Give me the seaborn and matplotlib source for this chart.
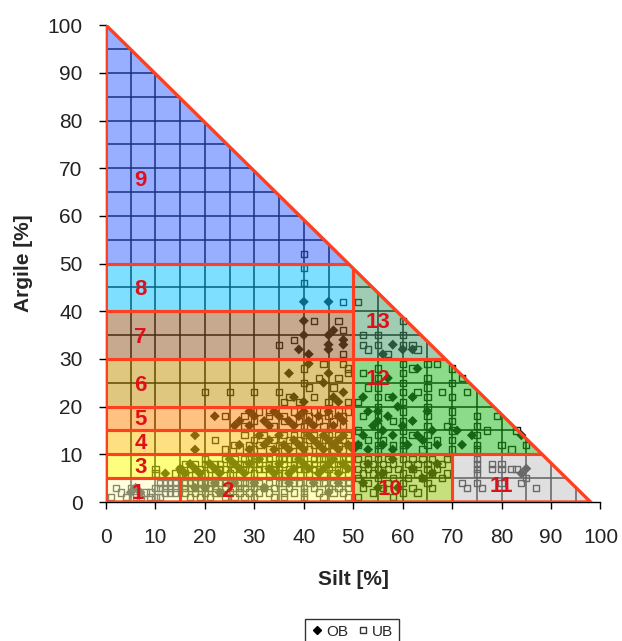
import numpy as np
import pandas as pd
import matplotlib
matplotlib.use('Agg')
import matplotlib.pyplot as plt
import matplotlib.colors as mcolors
from matplotlib.patches import Polygon, Rectangle
from matplotlib.lines import Line2D
import seaborn as sns

# texture classes: (silt_lo, silt_hi, clay_lo, clay_hi)
class_names = ['1', '2', '3', '4', '5', '6', '7', '8', '9', '10', '11', '12', '13']
class_bounds = [(0, 15, 0, 5), (15, 50, 0, 5), (0, 50, 5, 10), (0, 50, 10, 15),
                (0, 50, 15, 20), (0, 50, 20, 30), (0, 50, 30, 40), (0, 50, 40, 50),
                (0, 50, 50, 100), (50, 70, 0, 10), (70, 100, 0, 10), (50, 100, 10, 30),
                (50, 100, 30, 50)]
class_colors = ['#ffffe1', '#ffffbe', '#ffff80', '#ffe182', '#ffc382', '#e1c87d', '#c8aa91',
                '#80e0ff', '#99afff', '#c8e17d', '#e0e0e0', '#8cdc8c', '#a0cdb4']
label_pos = [(6.5, 1.8), (24.5, 2.2), (7, 7.3), (7, 12.3), (7, 17.3), (7, 24.5), (7, 34.5),
             (7, 44.5), (7, 67.5), (57.5, 2.7), (80, 3.2), (55, 25.6), (55, 37.7)]

# triangle corners
tri_silt = [0, 98, 0]
tri_clay = [0, 0, 100]

# measured samples (silt %, clay %)
ub_r1 = [(1, 1), (2, 3), (3, 2), (4, 1), (5, 3), (6, 1), (7, 1), (8, 2), (9, 2), (9, 1), (10, 3),
         (10, 1), (11, 4), (11, 3), (11, 1), (12, 4), (12, 3), (12, 2), (13, 4), (13, 3),
         (13, 2), (14, 4), (14, 3), (14, 2)]
ob_r1 = [(5, 2), (6, 3), (7, 2)]

ub_r2 = [(16, 4), (17, 4), (18, 4), (19, 4), (20, 4), (21, 4), (22, 4), (23, 4), (24, 4), (25, 4),
         (27, 4), (28, 4), (29, 4), (30, 4), (31, 4), (33, 4), (35, 4), (36, 4), (38, 4), (39, 4),
         (41, 4), (43, 4), (44, 4), (46, 4), (48, 4), (49, 4),
         (16, 3), (17, 3), (18, 3), (19, 3), (20, 3), (21, 3), (22, 3), (24, 3), (26, 3), (27, 3),
         (28, 3), (30, 3), (32, 3), (34, 3), (37, 3), (40, 3), (42, 3), (45, 3), (47, 3), (49, 3),
         (16, 2), (18, 2), (20, 2), (22, 2), (23, 2), (25, 2), (27, 2), (29, 2), (31, 2), (33, 2),
         (36, 2), (38, 2), (40, 2), (43, 2), (46, 2), (48, 2),
         (17, 1), (19, 1), (21, 1), (24, 1), (26, 1), (28, 1), (30, 1), (34, 1), (36, 1), (40, 1),
         (44, 1), (49, 1)]
ob_r2 = [(18, 3), (20, 3), (22, 4), (23, 2), (26, 4), (30, 4), (32, 3), (37, 4), (42, 4),
         (45, 2), (47, 4)]

ub_r3 = [(20, 9), (24, 9), (26, 9), (28, 9), (29, 9), (30, 9), (32, 9), (33, 9), (35, 9), (36, 9),
         (37, 9), (38, 9), (40, 9), (42, 9), (43, 9), (44, 9), (45, 9), (47, 9), (48, 9), (49, 9),
         (16, 8), (18, 8), (20, 8), (22, 8), (23, 8), (25, 8), (27, 8), (28, 8), (30, 8), (31, 8),
         (33, 8), (34, 8), (36, 8), (38, 8), (39, 8), (41, 8), (42, 8), (44, 8), (46, 8), (47, 8),
         (49, 8),
         (10, 7), (15, 7), (17, 7), (19, 7), (21, 7), (23, 7), (24, 7), (26, 7), (28, 7), (29, 7),
         (31, 7), (32, 7), (34, 7), (35, 7), (37, 7), (39, 7), (40, 7), (42, 7), (43, 7), (45, 7),
         (47, 7), (48, 7),
         (10, 6), (14, 6), (16, 6), (18, 6), (20, 6), (22, 6), (25, 6), (27, 6), (30, 6), (33, 6),
         (35, 6), (36, 6), (38, 6), (41, 6), (44, 6), (46, 6), (49, 6)]
ob_r3 = [(25, 9), (31, 9), (39, 9), (46, 9), (17, 8), (21, 8), (26, 8), (29, 8), (35, 8), (40, 8),
         (45, 8), (48, 8), (15, 7), (18, 7), (22, 7), (27, 7), (33, 7), (38, 7), (41, 7), (44, 7),
         (49, 7), (12, 6), (16, 6), (19, 6), (23, 6), (28, 6), (34, 6), (37, 6), (43, 6), (47, 6)]

ub_r4 = [(28, 14), (32, 14), (36, 14), (38, 14), (40, 14), (42, 14), (45, 14), (47, 14), (49, 14),
         (22, 13), (30, 13), (34, 13), (37, 13), (39, 13), (41, 13), (43, 13), (44, 13), (46, 13),
         (48, 13), (26, 12), (29, 12), (31, 12), (35, 12), (38, 12), (40, 12), (42, 12), (45, 12),
         (47, 12), (49, 12), (24, 11), (27, 11), (30, 11), (33, 11), (36, 11), (39, 11), (41, 11),
         (43, 11), (46, 11), (48, 11)]
ob_r4 = [(18, 14), (31, 14), (35, 14), (41, 14), (44, 14), (48, 14), (33, 13), (38, 13), (42, 13),
         (45, 13), (47, 13), (27, 12), (32, 12), (36, 12), (39, 12), (43, 12), (46, 12), (49, 12),
         (18, 11), (29, 11), (34, 11), (37, 11), (40, 11), (44, 11), (47, 11)]

ub_r5 = [(31, 19), (33, 19), (38, 19), (42, 19), (44, 19), (47, 19), (49, 19), (24, 18), (28, 18),
         (33, 18), (36, 18), (41, 18), (45, 18), (48, 18), (30, 17), (36, 17), (39, 17), (43, 17),
         (46, 17), (28, 16), (34, 16), (40, 16), (44, 16), (48, 16)]
ob_r5 = [(29, 19), (34, 19), (40, 19), (45, 19), (22, 18), (30, 18), (35, 18), (39, 18), (43, 18),
         (47, 18), (27, 17), (32, 17), (37, 17), (41, 17), (48, 17), (26, 16), (29, 16), (33, 16),
         (38, 16), (42, 16), (46, 16)]

ub_r6 = [(20, 23), (25, 23), (30, 23), (35, 23), (37, 22), (40, 28), (40, 25), (42, 22), (44, 29),
         (45, 21), (46, 24), (47, 26), (48, 29), (49, 27), (43, 26), (39, 21), (36, 21), (41, 24),
         (49, 21), (49, 28)]
ob_r6 = [(37, 27), (41, 29), (44, 25), (46, 22), (48, 23), (38, 22), (45, 27), (47, 21), (40, 21)]

ub_r7 = [(35, 33), (38, 34), (42, 38), (47, 38), (48, 36), (48, 31)]
ob_r7 = [(40, 38), (40, 35), (39, 32), (41, 31), (45, 35), (45, 33), (45, 32), (46, 36), (48, 34),
         (48, 33)]

ub_r8 = [(40, 52), (40, 49), (40, 46), (48, 42)]
ob_r8 = [(40, 42), (45, 42)]

ub_r10 = [(51, 9), (53, 9), (55, 9), (57, 9), (60, 9), (62, 9), (64, 9), (66, 9), (69, 9),
          (52, 8), (54, 8), (56, 8), (58, 8), (61, 8), (63, 8), (65, 8), (68, 8),
          (51, 7), (53, 7), (55, 7), (57, 7), (59, 7), (62, 7), (65, 7), (67, 7),
          (52, 6), (54, 6), (56, 6), (60, 6), (63, 6), (66, 6), (69, 6),
          (51, 5), (55, 5), (58, 5), (61, 5), (64, 5), (68, 5),
          (53, 4), (57, 4), (60, 4), (65, 4), (52, 3), (56, 3), (62, 3), (66, 3),
          (54, 2), (60, 2), (63, 2), (51, 1), (58, 1)]
ob_r10 = [(53, 8), (56, 6), (58, 9), (62, 7), (64, 5), (67, 8), (52, 4), (59, 3), (66, 6), (55, 3)]

ub_r11 = [(75, 9), (75, 8), (75, 7), (75, 6), (72, 4), (73, 3), (75, 4), (78, 8), (78, 7), (80, 8),
          (80, 7), (82, 7), (83, 7), (84, 4), (85, 5), (87, 3), (80, 4), (76, 3)]
ob_r11 = [(84, 6), (85, 7)]

ub_r12 = [(55, 28), (55, 26), (55, 24), (55, 22), (55, 20), (55, 18), (55, 16), (55, 14), (55, 12),
          (55, 11), (60, 29), (60, 27), (60, 25), (60, 23), (60, 21), (60, 19), (60, 17), (60, 15),
          (60, 13), (60, 12), (60, 11), (65, 29), (65, 26), (65, 24), (65, 22), (65, 20), (65, 18),
          (65, 16), (65, 14), (65, 12), (70, 28), (70, 25), (70, 22), (70, 19), (70, 17), (70, 15),
          (70, 13), (70, 11), (75, 18), (75, 16), (75, 14), (75, 12), (75, 11),
          (52, 27), (53, 24), (51, 21), (52, 18), (51, 15), (53, 13), (57, 22), (58, 17), (62, 28),
          (63, 23), (67, 29), (68, 23), (69, 16), (72, 26), (73, 23), (77, 15), (79, 18), (80, 12),
          (83, 15), (85, 12), (82, 11), (56, 13), (62, 14), (64, 11), (67, 13), (51, 12), (58, 12)]
ob_r12 = [(52, 22), (58, 22), (55, 19), (57, 18), (59, 20), (54, 16), (56, 15), (58, 14), (52, 14),
          (51, 12), (53, 11), (60, 16), (62, 17), (63, 14), (61, 12), (64, 13), (66, 15), (67, 12),
          (65, 19), (57, 26), (63, 28), (55, 17), (62, 22), (58, 11), (71, 15), (74, 14), (72, 12),
          (84, 14), (53, 19), (56, 12), (50, 11)]

ub_r13 = [(51, 42), (60, 38), (52, 35), (55, 35), (60, 35), (52, 33), (53, 32), (55, 33), (57, 31),
          (60, 33), (63, 32), (62, 33)]
ob_r13 = [(58, 33), (60, 32), (62, 32), (56, 31)]

ub = pd.DataFrame(ub_r1 + ub_r2 + ub_r3 + ub_r4 + ub_r5 + ub_r6 + ub_r7 + ub_r8 + ub_r10 +
                  ub_r11 + ub_r12 + ub_r13, columns=['silt', 'clay'])
ob = pd.DataFrame(ob_r1 + ob_r2 + ob_r3 + ob_r4 + ob_r5 + ob_r6 + ob_r7 + ob_r8 + ob_r10 +
                  ob_r11 + ob_r12 + ob_r13, columns=['silt', 'clay'])

sns.set_theme(style='ticks')
plt.rcParams['font.family'] = ['Liberation Sans', 'DejaVu Sans']

fig = plt.figure(figsize=(6.22, 6.41), dpi=100)
ax = fig.add_axes([0.1704, 0.2168, 0.795, 0.744])

tri = Polygon(np.column_stack([tri_silt, tri_clay]), closed=True, transform=ax.transData)

# grid + samples drawn dark, then the class colours laid over them half transparent
alpha = 0.5
g1 = ax.vlines(np.arange(5, 100, 5), 0, 100, colors='black', lw=1.1, zorder=1)
g2 = ax.hlines(np.arange(5, 100, 5), 0, 100, colors='black', lw=1.1, zorder=1)
g1.set_clip_path(tri)
g2.set_clip_path(tri)

sns.scatterplot(data=ob, x='silt', y='clay', marker='D', color='#111111', s=26,
                edgecolor='none', ax=ax, zorder=2, legend=False)
ax.scatter(ub['silt'], ub['clay'], marker='s', s=20, facecolors='none',
           edgecolors='#111111', linewidths=1.0, zorder=2)

for (s0, s1, c0, c1), col in zip(class_bounds, class_colors):
    seen = np.array(mcolors.to_rgb(col))
    base = np.clip((seen - (1 - alpha)) / alpha, 0, 1)
    fill = Rectangle((s0, c0), s1 - s0, c1 - c0, facecolor=base, alpha=alpha,
                     edgecolor='none', zorder=3)
    ax.add_patch(fill)
    fill.set_clip_path(tri)
    edge = Rectangle((s0, c0), s1 - s0, c1 - c0, facecolor='none', edgecolor='#ff4020',
                     lw=2.2, zorder=4)
    ax.add_patch(edge)
    edge.set_clip_path(tri)

ax.add_patch(Polygon(np.column_stack([tri_silt, tri_clay]), closed=True, facecolor='none',
                     edgecolor='#ff4020', lw=2.4, zorder=5, joinstyle='miter'))

for name, (lx, ly) in zip(class_names, label_pos):
    ax.text(lx, ly, name, color='#e0101a', fontsize=16, fontweight='bold',
            ha='center', va='center', zorder=6)

ax.set_xlim(0, 100)
ax.set_ylim(0, 100)
ax.set_xticks(np.arange(0, 101, 10))
ax.set_yticks(np.arange(0, 101, 10))
ax.tick_params(direction='out', length=5, width=1, color='black', labelsize=15,
               labelcolor='#222222')
ax.tick_params(axis='x', pad=14)
ax.tick_params(axis='y', pad=12)
for side in ['top', 'right']:
    ax.spines[side].set_visible(False)
for side in ['left', 'bottom']:
    ax.spines[side].set_color('black')
    ax.spines[side].set_linewidth(1)
ax.set_xlabel('Silt [%]', fontsize=15, fontweight='bold', labelpad=16)
ax.set_ylabel('Argile [%]', fontsize=15, fontweight='bold', labelpad=10)

handles = [Line2D([], [], marker='D', color='black', ls='', ms=4, label='OB'),
           Line2D([], [], marker='s', mfc='none', mec='#333333', ls='', ms=4, label='UB')]
leg = fig.legend(handles=handles, loc='upper center', bbox_to_anchor=(0.566, 0.046), ncol=2,
                 frameon=True, fancybox=False, edgecolor='black', fontsize=11,
                 handletextpad=0.2, columnspacing=0.6, handlelength=0.8, borderpad=0.35)
leg.get_frame().set_linewidth(1)

fig.savefig('out.png', dpi=100)
